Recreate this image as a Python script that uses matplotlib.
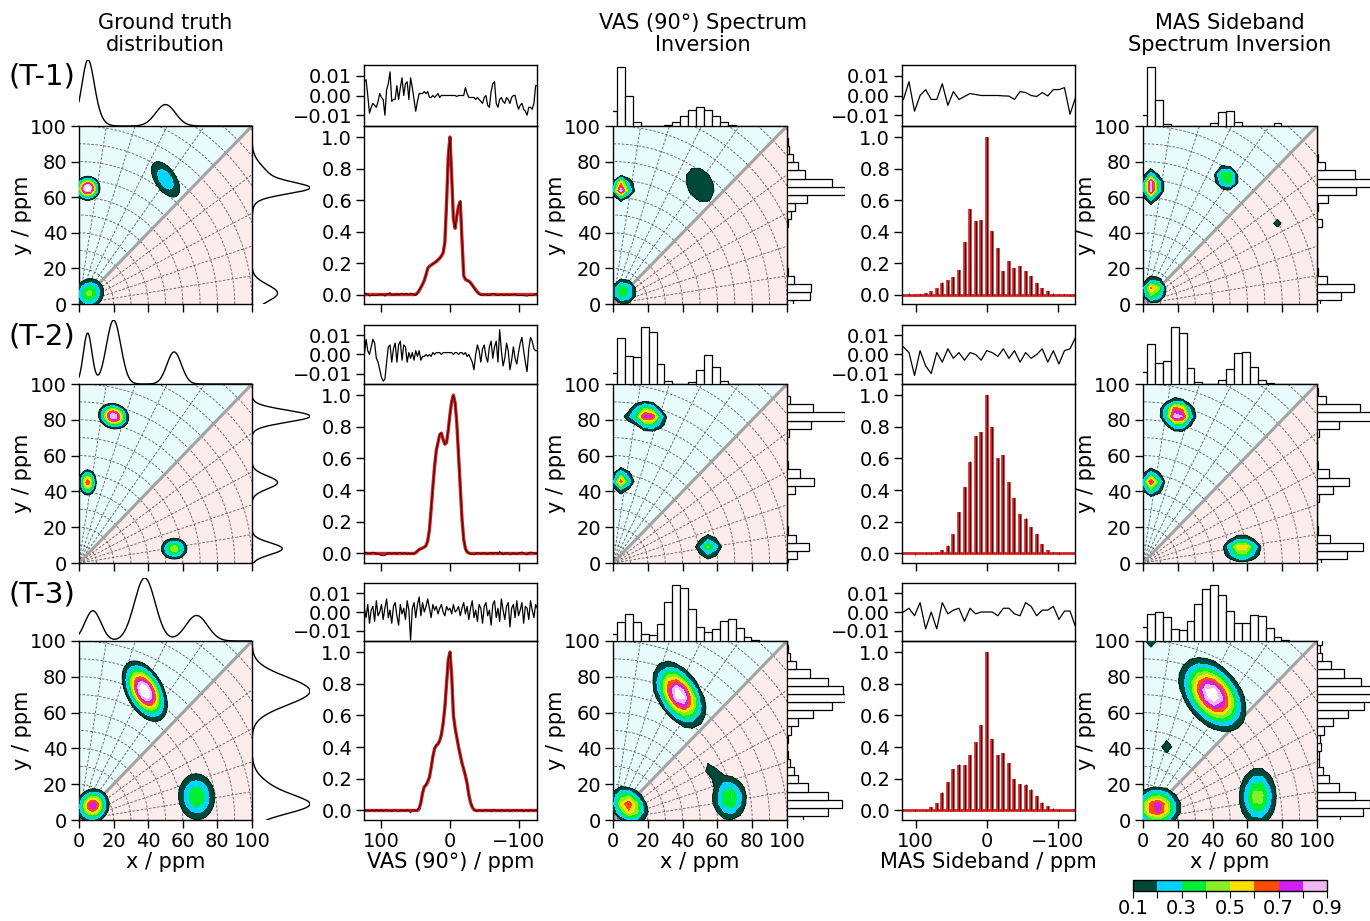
import numpy as np
import matplotlib
matplotlib.use("Agg")
import matplotlib.pyplot as plt
from matplotlib.colors import ListedColormap, BoundaryNorm
from matplotlib.cm import ScalarMappable

plt.rcParams['font.family'] = ['DejaVu Sans']
plt.rcParams['font.size'] = 14

# ---------------- data ----------------
row_labels = ["(T-1)", "(T-2)", "(T-3)"]
col_titles = ["Ground truth\ndistribution", "VAS (90°) Spectrum\nInversion", "MAS Sideband\nSpectrum Inversion"]

# peaks of the 2D distributions: (x, y, sigma major, sigma minor, angle deg, amplitude)
truth_t1 = [(5, 65, 3.3, 3.1, 0, 1.0), (6, 6, 5.0, 4.6, 45, 0.42), (50, 70, 8.0, 4.2, -55, 0.27)]
truth_t2 = [(20, 82, 4.2, 3.3, -15, 0.88), (5, 45, 3.6, 2.5, 90, 0.65), (55, 8, 4.2, 3.3, 0, 0.45)]
truth_t3 = [(38, 72, 8.6, 4.9, -60, 1.0), (8, 8, 4.8, 4.5, 45, 0.75), (68, 13, 7.8, 6.3, 95, 0.38)]

vas_inv_t1 = [(5, 65, 3.0, 2.8, 90, 1.0), (6, 7, 4.0, 4.0, 0, 0.45), (50, 67, 10, 7, -60, 0.17)]
vas_inv_t2 = [(20, 82, 5.0, 3.5, -15, 0.85), (8, 81, 2.0, 2.0, 0, 0.15),
              (5, 46, 3.2, 3.0, 90, 0.7), (55, 9, 4.0, 3.5, 0, 0.42)]
vas_inv_t3 = [(38, 70, 9.5, 5.5, -57, 1.0), (9, 8, 6.0, 4.5, -45, 0.72),
              (67, 12, 7.0, 5.5, 90, 0.42), (57, 27, 6.0, 2.5, -50, 0.16)]

mas_inv_t1 = [(5, 66, 4.2, 2.6, 90, 1.0), (6, 8, 3.5, 3.5, 0, 0.7),
              (48, 71, 4.0, 3.5, -45, 0.5), (77.3, 45.5, 1.5, 1.5, 0, 0.18)]
mas_inv_t2 = [(20, 83, 4.5, 4.0, -20, 1.0), (5, 45, 3.5, 3.2, 90, 0.75), (57, 8, 5.5, 3.5, 0, 0.65)]
mas_inv_t3 = [(40, 70, 11, 7, -50, 1.0), (8, 7, 6.5, 5.5, 0, 0.82), (66, 13, 9, 5.8, 90, 0.47),
              (4.5, 100, 3, 3, 0, 0.2), (13.6, 40.9, 3, 2.5, 90, 0.2)]

level_values = [0.1, 0.2, 0.3, 0.4, 0.5, 0.6, 0.7, 0.8, 0.9, 10]
level_colors = ['#00493a', '#00d4ff', '#00ee33', '#88f022', '#ffe000',
                '#ff4a00', '#d21ef0', '#f2b6f2', '#ffffff']

# VAS spectra, 2.5 ppm steps from 125 to -127.5 ppm
vas_fit_t1 = [0, 0, 0, 0, 0, 0, 0, 0, 0, 0,
              0, 0, 0, 0, 0, 0, 0, 0, 0, 0,
              0, 0, 0, 0, 0, 0, 0, 0, 0, 0,
              0.002, 0.01, 0.025, 0.045, 0.065, 0.09, 0.125, 0.165, 0.18, 0.187,
              0.195, 0.202, 0.21, 0.22, 0.23, 0.245, 0.265, 0.33, 0.58, 0.88,
              1.0, 0.75, 0.48, 0.42, 0.5, 0.56, 0.59, 0.35, 0.12, 0.095,
              0.09, 0.085, 0.075, 0.06, 0.045, 0.03, 0.016, 0.006, 0.001, 0,
              0, 0, 0, 0, 0, 0, 0, 0, 0, 0,
              0, 0, 0, 0, 0, 0, 0, 0, 0, 0,
              0, 0, 0, 0, 0, 0, 0, 0, 0, 0,
              0, 0]
vas_fit_t2 = [0, 0, 0, 0, 0, 0, 0, 0, 0, 0,
              0, 0, 0, 0, 0, 0, 0, 0, 0, 0,
              0, 0, 0, 0, 0, 0, 0, 0, 0, 0,
              0.005, 0.015, 0.025, 0.03, 0.035, 0.04, 0.05, 0.08, 0.15, 0.28,
              0.42, 0.55, 0.65, 0.70, 0.75, 0.76, 0.72, 0.69, 0.70, 0.78,
              0.88, 0.96, 1.0, 0.95, 0.82, 0.62, 0.42, 0.22, 0.09, 0.03,
              0.01, 0.003, 0, 0, 0, 0, 0, 0, 0, 0,
              0, 0, 0, 0, 0, 0, 0, 0, 0, 0,
              0, 0, 0, 0, 0, 0, 0, 0, 0, 0,
              0, 0, 0, 0, 0, 0, 0, 0, 0, 0,
              0, 0]
vas_fit_t3 = [0, 0, 0, 0, 0, 0, 0, 0, 0, 0,
              0, 0, 0, 0, 0, 0, 0, 0, 0, 0,
              0, 0, 0, 0, 0, 0, 0, 0, 0, 0,
              0, 0, 0.01, 0.05, 0.11, 0.15, 0.16, 0.18, 0.21, 0.27,
              0.34, 0.39, 0.41, 0.42, 0.44, 0.48, 0.55, 0.65, 0.8, 0.95,
              1.0, 0.85, 0.6, 0.52, 0.46, 0.4, 0.35, 0.3, 0.26, 0.22,
              0.17, 0.1, 0.05, 0.02, 0.005, 0, 0, 0, 0, 0,
              0, 0, 0, 0, 0, 0, 0, 0, 0, 0,
              0, 0, 0, 0, 0, 0, 0, 0, 0, 0,
              0, 0, 0, 0, 0, 0, 0, 0, 0, 0,
              0, 0]

vas_res_t1 = [0.007, 0.008, 0.000, -0.009, -0.006, -0.004, -0.005, -0.006, -0.003, 0.001,
              -0.001, -0.002, -0.010, 0.003, 0.006, 0.012, -0.003, -0.002, -0.002, 0.005,
              -0.002, 0.004, 0.009, 0.000, 0.006, 0.007, -0.002, 0.009, 0.004, -0.002,
              -0.008, -0.003, 0.001, 0.001, 0.001, 0.002, 0.001, 0.002, -0.001, -0.001,
              0.000, -0.001, 0.000, 0.001, -0.001, 0.000, 0.000, 0.000, 0.000, 0.000,
              0.000, 0.000, 0.000, 0.000, -0.0005, 0.000, 0.000, 0.000, 0.000, 0.004,
              0.001, -0.001, -0.001, -0.001, -0.001, -0.002, -0.001, -0.002, -0.003, -0.004,
              -0.001, 0.000, -0.005, -0.006, 0.002, 0.006, 0.007, -0.004, -0.006, -0.002,
              -0.001, -0.003, -0.004, -0.001, -0.002, -0.004, -0.001, 0.000, 0.000, -0.004,
              -0.007, -0.005, -0.004, -0.007, -0.008, -0.010, -0.006, -0.006, -0.007, -0.004,
              0.005, 0.005]
vas_res_t2 = [0.000, 0.008, 0.002, 0.000, 0.004, 0.008, 0.006, -0.002, -0.004, -0.008,
              -0.012, -0.014, -0.013, -0.004, 0.004, 0.005, -0.004, 0.003, 0.006, -0.004,
              0.005, 0.007, -0.003, 0.005, 0.004, -0.004, 0.001, -0.002, 0.001, -0.003,
              0.002, -0.001, 0.002, -0.003, -0.001, -0.001, 0.000, -0.001, 0.000, -0.001,
              0.001, 0.000, 0.001, 0.001, 0.001, 0.000, 0.001, 0.001, 0.001, 0.001,
              0.001, 0.001, 0.000, 0.001, 0.001, 0.000, 0.001, 0.001, 0.000, 0.001,
              -0.001, 0.000, -0.002, -0.004, -0.008, 0.000, 0.005, 0.002, -0.004, 0.003,
              0.005, -0.001, -0.004, 0.004, 0.007, -0.002, 0.004, 0.007, -0.004, 0.013,
              0.002, -0.006, -0.002, 0.006, 0.002, -0.008, -0.003, 0.004, -0.002, -0.005,
              0.001, 0.006, 0.009, 0.002, -0.004, -0.009, 0.003, 0.009, 0.007, 0.003,
              0.002, 0.002]
vas_res_t3 = [0.002, -0.003, 0.004, -0.006, 0.001, 0.003, -0.005, 0.006, -0.002, 0.000,
              0.004, -0.004, 0.002, 0.007, -0.003, 0.001, -0.006, 0.003, 0.005, -0.002,
              -0.007, 0.004, -0.001, 0.002, -0.004, 0.006, 0.001, -0.015, 0.002, 0.005,
              -0.003, 0.004, 0.008, -0.002, 0.005, 0.000, 0.003, 0.007, 0.002, -0.003,
              0.004, 0.001, 0.003, -0.001, 0.002, 0.004, 0.000, -0.002, 0.003, 0.001,
              0.002, -0.001, 0.004, 0.000, 0.001, 0.003, -0.002, 0.002, 0.005, -0.001,
              0.003, -0.004, 0.002, 0.006, -0.003, 0.001, -0.005, 0.004, 0.002, -0.006,
              0.003, 0.005, -0.002, 0.001, -0.007, 0.004, 0.006, -0.003, 0.002, -0.005,
              0.007, 0.001, -0.004, 0.003, 0.005, -0.008, 0.002, 0.004, -0.003, 0.006,
              -0.002, 0.001, 0.005, -0.006, 0.003, 0.002, -0.004, 0.006, 0.001, -0.003,
              0.004, 0.002]

# MAS sidebands, sideband index 15 ... -16
spin_step = 7.8
mas_fit_t1 = [0, 0, 0, 0.003, 0.008, 0.02, 0.04, 0.075, 0.09, 0.11, 0.155, 0.335, 0.54, 0.465, 0.475, 1.0,
              0.405, 0.295, 0.15, 0.215, 0.17, 0.18, 0.15, 0.115, 0.075, 0.04, 0.02, 0.005, 0, 0, 0, 0]
mas_fit_t2 = [0, 0, 0, 0, 0, 0.005, 0.01, 0.025, 0.05, 0.12, 0.26, 0.42, 0.58, 0.74, 0.77, 1.0,
              0.8, 0.6, 0.62, 0.45, 0.35, 0.25, 0.22, 0.17, 0.12, 0.06, 0.02, 0.005, 0, 0, 0, 0]
mas_fit_t3 = [0, 0, 0, 0, 0.005, 0.02, 0.05, 0.11, 0.18, 0.26, 0.29, 0.29, 0.35, 0.43, 0.54, 1.0,
              0.45, 0.35, 0.36, 0.30, 0.20, 0.17, 0.16, 0.13, 0.09, 0.05, 0.03, 0.01, 0, 0, 0, 0]
mas_res_t1 = [-0.002, 0.007, -0.008, 0.000, 0.003, -0.002, -0.002, 0.006, -0.005, 0.002, -0.002,
              -0.0005, 0.001, 0.0005, 0.0, 0.0, 0.0, 0.0, -0.0002, -0.0003, -0.002, 0.002, 0.0015,
              0.0, -0.0005, 0.0015, -0.0002, 0.003, 0.003, 0.004, -0.0095, -0.001]
mas_res_t2 = [0.004, 0.001, -0.011, 0.002, -0.006, -0.010, 0.001, -0.004, 0.003, -0.002, 0.001,
              -0.003, 0.001, 0.000, -0.003, 0.002, 0.001, -0.001, 0.003, -0.002, 0.002, -0.004,
              0.001, -0.002, 0.000, 0.003, -0.004, 0.002, -0.005, 0.002, 0.003, 0.009]
mas_res_t3 = [0.000, 0.002, -0.002, 0.005, -0.009, 0.000, -0.009, 0.005, -0.001, 0.001, 0.002,
              -0.005, 0.002, -0.001, 0.0, 0.0, 0.0, -0.002, 0.002, 0.002, -0.001, -0.002, 0.005,
              0.003, -0.002, 0.001, 0.001, 0.003, -0.004, 0.0005, 0.0005, -0.008]

truth_rows = [truth_t1, truth_t2, truth_t3]
vas_rows = [vas_inv_t1, vas_inv_t2, vas_inv_t3]
mas_rows = [mas_inv_t1, mas_inv_t2, mas_inv_t3]
vas_fits = [vas_fit_t1, vas_fit_t2, vas_fit_t3]
vas_res = [vas_res_t1, vas_res_t2, vas_res_t3]
mas_fits = [mas_fit_t1, mas_fit_t2, mas_fit_t3]
mas_res = [mas_res_t1, mas_res_t2, mas_res_t3]

# ---------------- helpers ----------------
W, H = 1370, 921
fig = plt.figure(figsize=(W / 100, H / 100), dpi=100)


def px_axes(x0, y0, x1, y1):
    return fig.add_axes([x0 / W, 1 - y1 / H, (x1 - x0) / W, (y1 - y0) / H])


def make_field(peaks, grid):
    X, Y = np.meshgrid(grid, grid)
    Z = np.zeros_like(X)
    for x0, y0, sa, sb, ang, amp in peaks:
        t = np.deg2rad(ang)
        u = (X - x0) * np.cos(t) + (Y - y0) * np.sin(t)
        v = -(X - x0) * np.sin(t) + (Y - y0) * np.cos(t)
        Z += amp * np.exp(-0.5 * (u ** 2 / sa ** 2 + v ** 2 / sb ** 2))
    return Z


def style_ticks(ax):
    ax.tick_params(direction='out', length=6, width=1, labelsize=14, pad=2.5)
    for s in ax.spines.values():
        s.set_linewidth(1)


def contour_panel(ax, grid, Z, last_row):
    ax.fill([0, 0, 100], [0, 100, 100], color='#e8fbfd', zorder=0)
    ax.fill([0, 100, 100], [0, 0, 100], color='#fdecec', zorder=0)
    th = np.linspace(0, np.pi / 2, 120)
    for r in range(10, 150, 10):
        ax.plot(r * np.cos(th), r * np.sin(th), color='0.35', lw=0.6, ls=(0, (3, 2)), zorder=1)
    for a in [9, 18, 27, 36, 54, 63, 72, 81]:
        t = np.deg2rad(a)
        ax.plot([0, 150 * np.cos(t)], [0, 150 * np.sin(t)], color='0.35', lw=0.6, ls=(0, (3, 2)), zorder=1)
    ax.plot([0, 100], [0, 100], color='#a3a3a3', lw=2.2, zorder=2)
    cs = ax.contourf(grid, grid, Z, levels=level_values, colors=level_colors)
    cs.set_zorder(3)
    cl = ax.contour(grid, grid, Z, levels=[0.1], colors='#0a2a1e', linewidths=0.8)
    cl.set_zorder(4)
    ax.set_xlim(0, 100)
    ax.set_ylim(0, 100)
    ax.set_xticks(range(0, 101, 20))
    ax.set_yticks(range(0, 101, 20))
    style_ticks(ax)
    ax.set_ylabel('y / ppm', fontsize=15, labelpad=-1)
    if last_row:
        ax.set_xlabel('x / ppm', fontsize=15, labelpad=1)
    else:
        ax.tick_params(labelbottom=False)


def res_axis(ax, x, res, xlim):
    ax.patch.set_alpha(0)
    ax.plot(x, res, color='k', lw=0.9)
    ax.set_xlim(*xlim)
    ax.set_ylim(-0.0155, 0.0155)
    ax.set_yticks([-0.01, 0, 0.01])
    ax.set_yticklabels(['\u22120.01', '0.00', '0.01'])
    ax.set_xticks([])
    style_ticks(ax)


def spec_axis(ax, xlim, last_row, label):
    ax.patch.set_alpha(0)
    ax.set_xlim(*xlim)
    ax.set_ylim(-0.06, 1.07)
    ax.set_yticks([0, 0.2, 0.4, 0.6, 0.8, 1.0])
    ax.set_yticklabels(['0.0', '0.2', '0.4', '0.6', '0.8', '1.0'])
    ax.set_xticks([100, 0, -100])
    ax.set_xticklabels(['100', '0', '\u2212100'])
    style_ticks(ax)
    if last_row:
        ax.set_xlabel(label, fontsize=15, labelpad=1)
    else:
        ax.tick_params(labelbottom=False)


# ---------------- layout ----------------
row_top = [126, 384, 641]
row_bot = [304, 563, 820]
marg_top = [65, 325, 583]
c_truth, c_vas, c_vinv, c_mas, c_minv = (79, 252), (364, 537), (613, 787), (902, 1075), (1143, 1317)
r_truth, r_vinv, r_minv = (252, 310), (787, 845), (1317, 1375)

fine = np.linspace(0, 100, 201)
coarse = np.linspace(0, 100, 23)
step = coarse[1] - coarse[0]
vas_x = np.linspace(125, -127.5, len(vas_fit_t1))
mas_x = spin_step * np.arange(15, -17, -1)

for i in range(3):
    last = i == 2
    top, bot, mt = row_top[i], row_bot[i], marg_top[i]

    # VAS spectrum
    fit = np.array(vas_fits[i])
    res = np.array(vas_res[i])
    rx = np.linspace(125, -127.5, len(res))
    axres = px_axes(c_vas[0], mt, c_vas[1], top)
    res_axis(axres, rx, res, (125.5, -127))
    axs = px_axes(c_vas[0], top, c_vas[1], bot)
    data = fit + np.interp(vas_x, rx[::-1], res[::-1])
    axs.plot(vas_x, fit, color='#d42020', lw=2.4)
    axs.plot(vas_x, data, color='#300000', lw=0.7)
    spec_axis(axs, (125.5, -127), last, 'VAS (90°) / ppm')

    # MAS sidebands
    fit = np.array(mas_fits[i])
    res = np.array(mas_res[i])
    axres = px_axes(c_mas[0], mt, c_mas[1], top)
    res_axis(axres, mas_x, res, (119, -124))
    axs = px_axes(c_mas[0], top, c_mas[1], bot)
    axs.axhline(0, color='#d42020', lw=2)
    axs.vlines(mas_x, 0, fit, color='#d42020', lw=2.6)
    axs.vlines(mas_x, 0, fit + res, color='#300000', lw=0.7)
    spec_axis(axs, (119, -124), last, 'MAS Sideband / ppm')

    # ground truth
    Z = make_field(truth_rows[i], fine)
    ax = px_axes(c_truth[0], top, c_truth[1], bot)
    contour_panel(ax, fine, Z, last)
    mx = Z.sum(axis=0)
    my = Z.sum(axis=1)
    axt = px_axes(c_truth[0], mt - 5, c_truth[1], top)
    axt.plot(fine, mx / mx.max(), color='k', lw=1)
    axt.set_xlim(0, 100)
    axt.set_ylim(0, 1.0)
    axt.axis('off')
    axr = px_axes(r_truth[0], top, r_truth[1], bot)
    axr.plot(my / my.max(), fine, color='k', lw=1)
    axr.set_ylim(0, 100)
    axr.set_xlim(0, 1.0)
    axr.axis('off')

    # inversions
    for cols, rcol, peaks in [(c_vinv, r_vinv, vas_rows[i]), (c_minv, r_minv, mas_rows[i])]:
        Z = make_field(peaks, coarse)
        ax = px_axes(cols[0], top, cols[1], bot)
        contour_panel(ax, coarse, Z, last)
        hx = Z.sum(axis=0)
        hy = Z.sum(axis=1)
        axt = px_axes(cols[0], mt, cols[1], top)
        axt.bar(coarse, hx, width=step, color='white', edgecolor='k', lw=0.9)
        axt.set_xlim(0, 100)
        axt.set_ylim(0, hx.max() * 1.04)
        axt.axis('off')
        axr = px_axes(rcol[0], top, rcol[1], bot)
        axr.barh(coarse, hy, height=step, color='white', edgecolor='k', lw=0.9)
        axr.set_ylim(0, 100)
        axr.set_xlim(0, hy.max())
        axr.axis('off')

    fig.text(42 / W, 1 - (mt + 12) / H, row_labels[i], fontsize=21, ha='center', va='center')

# column titles
for xc, t in zip([165, 703, 1230], col_titles):
    fig.text(xc / W, 1 - 34 / H, t, fontsize=15, ha='center', va='center', linespacing=1.1)

# colorbar
cax = px_axes(1133, 880, 1327, 891)
cmap = ListedColormap(level_colors[:8])
norm = BoundaryNorm(level_values[:9], cmap.N)
cb = fig.colorbar(ScalarMappable(norm=norm, cmap=cmap), cax=cax, orientation='horizontal',
                  ticks=level_values[:9])
cb.ax.set_xticklabels(['0.1', '', '0.3', '', '0.5', '', '0.7', '', '0.9'])
cb.ax.tick_params(direction='out', length=5, labelsize=14, pad=1)
cb.outline.set_linewidth(1)

fig.savefig('out.png', dpi=100)
